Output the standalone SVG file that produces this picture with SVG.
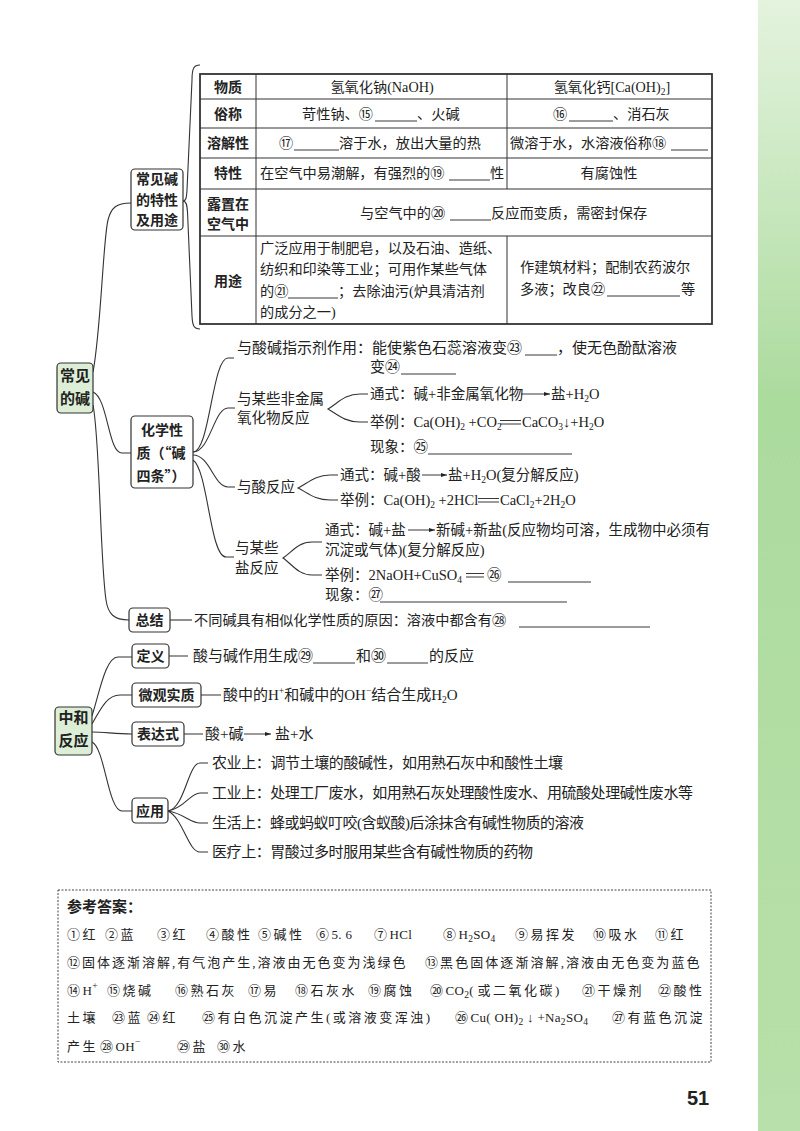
<svg xmlns="http://www.w3.org/2000/svg" width="800" height="1131" viewBox="0 0 800 1131">
<defs>
<linearGradient id="gs" x1="0" y1="0" x2="0" y2="1">
<stop offset="0" stop-color="#e4f3de"/>
<stop offset="0.35" stop-color="#acdb9e"/>
<stop offset="1" stop-color="#b8e0aa"/>
</linearGradient>
<marker id="ah" viewBox="0 0 6 6" refX="6" refY="3" markerWidth="6" markerHeight="6" orient="auto" markerUnits="userSpaceOnUse"><path d="M0,1 L6,3 L0,5 Z" fill="#222"/></marker>
</defs>
<style>
text{font-family:"Liberation Serif","Noto Sans CJK SC",serif;font-size:14.5px;fill:#222}
.b{font-family:"Noto Sans CJK SC",sans-serif;font-weight:bold;font-size:14px;text-anchor:middle}
.bg{font-family:"Noto Sans CJK SC",sans-serif;font-weight:bold;font-size:15px;text-anchor:middle}
.c{text-anchor:middle}
.t{font-size:14.2px}
.f15{font-size:15px}
.box{fill:#fff;stroke:#333;stroke-width:1.2}
.gbox{fill:#dcefd6;stroke:#333;stroke-width:1.2}
.ln{fill:none;stroke:#333;stroke-width:1.1}
.ul{stroke:#222;stroke-width:0.9}
.tb{stroke:#333;stroke-width:1;fill:none}
.ar{stroke:#222;stroke-width:0.9;marker-end:url(#ah)}
.ans{font-size:13px;letter-spacing:2.5px}
.la{letter-spacing:0.3px}
.s{font-size:9.5px}
</style>
<rect x="0" y="0" width="800" height="1131" fill="#fff"/>
<rect x="758" y="0" width="42" height="1131" fill="url(#gs)"/>

<g id="connectors">
<path class="ln" d="M93,372 C101,330 103,240 108,220 C111,208 116,203 131,203"/>
<path class="ln" d="M93,392 C108,398 108,453 122,453 L131,453"/>
<path class="ln" d="M93,405 C100,440 100,560 106,600 C108,614 114,620 129,620"/>
<path class="ln" d="M200,65 C194,65 192,68 192,80 L187,190 C186.5,198 186,201 183,201 C186,201 187,204 187.5,212 L192,316 C192.5,326 194,329 200,329"/>
<path class="ln" d="M193,452 C210,452 212,358 228,358 L234,358"/>
<path class="ln" d="M193,452 C210,452 214,408 228,408 L235,408"/>
<path class="ln" d="M193,455 C210,455 214,487 228,487 L235,487"/>
<path class="ln" d="M193,460 C208,470 210,557 226,557 L234,557"/>
<path class="ln" d="M368,394 L360,394 C345,394 338,403 328,409 C338,415 345,422 360,422 L368,422"/>
<path class="ln" d="M338,475 L330,475 C315,475 308,483 298,488 C308,493 315,500 330,500 L338,500"/>
<path class="ln" d="M322,542 L312,542 C298,542 292,552 283,558 C292,564 298,575 312,575 L322,575"/>
<path class="ln" d="M170,620 L192,620"/>
<path class="ln" d="M92,716 C100,690 106,657 118,657 L132,657"/>
<path class="ln" d="M92,724 C102,706 108,695 120,695 L132,695"/>
<path class="ln" d="M92,732 C105,732 115,734 132,734"/>
<path class="ln" d="M92,742 C105,748 108,811 122,811 L132,811"/>
<path class="ln" d="M169,656 L188,656 M201,695 L221,695 M184,734 L203,734"/>
<path class="ln" d="M168,811 C185,808 188,763 200,763 L208,763"/>
<path class="ln" d="M168,811 C185,808 190,793 200,793 L208,793"/>
<path class="ln" d="M168,811 C185,814 190,823 200,823 L208,823"/>
<path class="ln" d="M168,811 C183,818 188,852 200,852 L208,852"/>
</g>

<g id="node-changjiandejian">
<rect class="gbox" x="57" y="363" width="36" height="50" rx="4"/>
<text class="bg" x="75" y="381">常见</text>
<text class="bg" x="75" y="404">的碱</text>
</g>

<g id="node-texing">
<rect class="box" x="131" y="169" width="52" height="61" rx="4"/>
<text class="b" x="157" y="184">常见碱</text>
<text class="b" x="157" y="205">的特性</text>
<text class="b" x="157" y="225">及用途</text>
</g>

<g id="node-table">
<rect x="200" y="74" width="512" height="250" fill="none" stroke="#333" stroke-width="1.8"/>
<path class="tb" d="M200,99 H712 M200,128 H712 M200,158 H712 M200,189 H712 M200,236 H712 M256,74 V324 M507,74 V189 M507,236 V324"/>
<text class="b" x="228" y="92">物质</text>
<text class="b" x="228" y="119">俗称</text>
<text class="b" x="228" y="148">溶解性</text>
<text class="b" x="228" y="178">特性</text>
<text class="b" x="228" y="209">露置在</text>
<text class="b" x="228" y="229">空气中</text>
<text class="b" x="228" y="286">用途</text>
<text class="t c" x="382" y="92">氢氧化钠(NaOH)</text>
<text class="t c" x="612" y="92">氢氧化钙[Ca(OH)<tspan class="s" dy="3">2</tspan><tspan dy="-3">]</tspan></text>
<text class="t" x="302" y="119">苛性钠、⑮</text>
<line class="ul" x1="375" y1="121" x2="417" y2="121"/>
<text class="t" x="417" y="119">、火碱</text>
<text class="t" x="553" y="119">⑯</text>
<line class="ul" x1="569" y1="121" x2="613" y2="121"/>
<text class="t" x="613" y="119">、消石灰</text>
<text class="t" x="279" y="148">⑰</text>
<line class="ul" x1="294" y1="150" x2="339" y2="150"/>
<text class="t" x="339" y="148">溶于水，放出大量的热</text>
<text class="t" x="510" y="148">微溶于水，水溶液俗称⑱</text>
<line class="ul" x1="671" y1="150" x2="708" y2="150"/>
<text class="t" x="260" y="178">在空气中易潮解，有强烈的⑲</text>
<line class="ul" x1="449" y1="180" x2="490" y2="180"/>
<text class="t" x="490" y="178">性</text>
<text class="t c" x="609" y="178">有腐蚀性</text>
<text class="t" x="360" y="218">与空气中的⑳</text>
<line class="ul" x1="450" y1="220" x2="491" y2="220"/>
<text class="t" x="491" y="218">反应而变质，需密封保存</text>
<text class="t" x="260" y="253">广泛应用于制肥皂，以及石油、造纸、</text>
<text class="t" x="260" y="274">纺织和印染等工业；可用作某些气体</text>
<text class="t" x="260" y="296">的㉑</text>
<line class="ul" x1="288" y1="298" x2="338" y2="298"/>
<text class="t" x="338" y="296">；去除油污(炉具清洁剂</text>
<text class="t" x="260" y="317">的成分之一)</text>
<text class="t" x="520" y="272">作建筑材料；配制农药波尔</text>
<text class="t" x="520" y="294">多液；改良㉒</text>
<line class="ul" x1="607" y1="296" x2="680" y2="296"/>
<text class="t" x="681" y="294">等</text>
</g>

<g id="node-huaxue">
<rect class="box" x="131" y="416" width="62" height="72" rx="4"/>
<text class="b" x="162" y="435">化学性</text>
<text class="b" x="161" y="458">质（“碱</text>
<text class="b" x="161" y="481">四条”）</text>
</g>

<g id="node-zhishiji">
<text class="f15" x="237" y="353">与酸碱指示剂作用：能使紫色石蕊溶液变㉓</text>
<line class="ul" x1="525" y1="355" x2="557" y2="355"/>
<text class="f15" x="557" y="353">，使无色酚酞溶液</text>
<text class="f15" x="370" y="372">变㉔</text>
<line class="ul" x1="401" y1="374" x2="456" y2="374"/>
</g>

<g id="node-feijinshu">
<text x="237" y="404">与某些非金属</text>
<text x="237" y="423">氧化物反应</text>
<text x="370" y="399">通式：碱+非金属氧化物</text>
<line class="ar" x1="521" y1="394" x2="550" y2="394"/>
<text x="551" y="399">盐+H<tspan class="s" dy="3">2</tspan><tspan dy="-3">O</tspan></text>
<text x="370" y="427">举例：Ca(OH)<tspan class="s" dy="3">2</tspan><tspan dy="-3"> +CO</tspan><tspan class="s" dy="3">2</tspan></text>
<path class="ul" d="M500,420.5 H521 M500,424 H521"/>
<text x="522" y="427">CaCO<tspan class="s" dy="3">3</tspan><tspan dy="-3">↓+H</tspan><tspan class="s" dy="3">2</tspan><tspan dy="-3">O</tspan></text>
<text x="370" y="452">现象：㉕</text>
<line class="ul" x1="428" y1="454" x2="572" y2="454"/>
</g>

<g id="node-suan">
<text x="237" y="492">与酸反应</text>
<text x="340" y="480">通式：碱+酸</text>
<line class="ar" x1="422" y1="475" x2="447" y2="475"/>
<text x="448" y="480">盐+H<tspan class="s" dy="3">2</tspan><tspan dy="-3">O(复分解反应)</tspan></text>
<text x="340" y="505">举例：Ca(OH)<tspan class="s" dy="3">2</tspan><tspan dy="-3"> +2HCl</tspan></text>
<path class="ul" d="M478,498.5 H499 M478,502 H499"/>
<text x="500" y="505">CaCl<tspan class="s" dy="3">2</tspan><tspan dy="-3">+2H</tspan><tspan class="s" dy="3">2</tspan><tspan dy="-3">O</tspan></text>
</g>

<g id="node-yan">
<text x="235" y="553">与某些</text>
<text x="235" y="573">盐反应</text>
<text x="325" y="535">通式：碱+盐</text>
<line class="ar" x1="408" y1="530" x2="435" y2="530"/>
<text x="436" y="535">新碱+新盐(反应物均可溶，生成物中必须有</text>
<text x="325" y="555">沉淀或气体)(复分解反应)</text>
<text x="325" y="580">举例：2NaOH+CuSO<tspan class="s" dy="3">4</tspan></text>
<path class="ul" d="M466,573.5 H484 M466,577 H484"/>
<text x="487" y="580">㉖</text>
<line class="ul" x1="508" y1="582" x2="591" y2="582"/>
<text x="325" y="600">现象：㉗</text>
<line class="ul" x1="380" y1="602" x2="567" y2="602"/>
</g>

<g id="node-zongjie">
<rect class="box" x="129" y="608" width="41" height="24" rx="4"/>
<text class="b" x="149.5" y="625">总结</text>
<text class="t" x="194" y="625">不同碱具有相似化学性质的原因：溶液中都含有㉘</text>
<line class="ul" x1="519" y1="627" x2="650" y2="627"/>
</g>

<g id="node-zhonghe">
<rect class="gbox" x="55" y="707" width="37" height="48" rx="4"/>
<text class="bg" x="73.5" y="723">中和</text>
<text class="bg" x="73.5" y="746">反应</text>
</g>

<g id="node-dingyi">
<rect class="box" x="132" y="644" width="37" height="24" rx="4"/>
<text class="b" x="150.5" y="661">定义</text>
<text class="f15" x="193" y="661">酸与碱作用生成㉙</text>
<line class="ul" x1="313" y1="663" x2="355" y2="663"/>
<text class="f15" x="356" y="661">和㉚</text>
<line class="ul" x1="387" y1="663" x2="428" y2="663"/>
<text class="f15" x="429" y="661">的反应</text>
</g>

<g id="node-weiguan">
<rect class="box" x="132" y="683" width="69" height="24" rx="4"/>
<text class="b" x="166.5" y="700">微观实质</text>
<text class="f15" x="223" y="700">酸中的H<tspan class="s" dy="-6">+</tspan><tspan dy="6">和碱中的OH</tspan><tspan class="s" dy="-6">−</tspan><tspan dy="6">结合生成H</tspan><tspan class="s" dy="3">2</tspan><tspan dy="-3">O</tspan></text>
</g>

<g id="node-biaoda">
<rect class="box" x="132" y="722" width="52" height="24" rx="4"/>
<text class="b" x="158" y="739">表达式</text>
<text class="f15" x="205" y="739">酸+碱</text>
<line class="ar" x1="244" y1="734" x2="271" y2="734"/>
<text class="f15" x="275" y="739">盐+水</text>
</g>

<g id="node-yingyong">
<rect class="box" x="132" y="798" width="36" height="25" rx="4"/>
<text class="b" x="150" y="816">应用</text>
<text class="f15" x="212" y="768" textLength="351">农业上：调节土壤的酸碱性，如用熟石灰中和酸性土壤</text>
<text class="f15" x="212" y="798" textLength="481">工业上：处理工厂废水，如用熟石灰处理酸性废水、用硫酸处理碱性废水等</text>
<text class="f15" x="212" y="828" textLength="372">生活上：蜂或蚂蚁叮咬(含蚁酸)后涂抹含有碱性物质的溶液</text>
<text class="f15" x="212" y="857" textLength="321">医疗上：胃酸过多时服用某些含有碱性物质的药物</text>
</g>

<g id="answers">
<rect x="58" y="890" width="653" height="172" fill="none" stroke="#444" stroke-width="1" stroke-dasharray="2,1.5"/>
<text x="67" y="912" style="font-family:'Noto Sans CJK SC',sans-serif;font-weight:bold;font-size:15px">参考答案：</text>
<text class="ans" y="939"><tspan x="67">①红</tspan><tspan x="105">②蓝</tspan><tspan x="157">③红</tspan><tspan x="206">④酸性</tspan><tspan x="258">⑤碱性</tspan><tspan x="316">⑥</tspan><tspan class="la">5. 6</tspan><tspan x="374">⑦</tspan><tspan class="la">HCl</tspan><tspan x="443">⑧</tspan><tspan class="la">H</tspan><tspan class="s la" dy="3">2</tspan><tspan class="la" dy="-3">SO</tspan><tspan class="s la" dy="3">4</tspan><tspan x="515" dy="-3">⑨易挥发</tspan><tspan x="593">⑩吸水</tspan><tspan x="655">⑪红</tspan></text>
<text class="ans" x="67" y="967" textLength="341" lengthAdjust="spacing">⑫固体逐渐溶解,有气泡产生,溶液由无色变为浅绿色</text>
<text class="ans" x="425" y="967" textLength="277" lengthAdjust="spacing">⑬黑色固体逐渐溶解,溶液由无色变为蓝色</text>
<text class="ans" y="995"><tspan x="67">⑭</tspan><tspan class="la">H</tspan><tspan class="s la" dy="-6">+</tspan><tspan x="107" dy="6">⑮烧碱</tspan><tspan x="175">⑯熟石灰</tspan><tspan x="248">⑰易</tspan><tspan x="295">⑱石灰水</tspan><tspan x="368">⑲腐蚀</tspan><tspan x="430">⑳</tspan><tspan class="la">CO</tspan><tspan class="s la" dy="3">2</tspan><tspan class="la" dy="-3">( </tspan><tspan>或二氧化碳</tspan><tspan class="la">)</tspan><tspan x="582">㉑干燥剂</tspan><tspan x="658">㉒酸性</tspan></text>
<text class="ans" y="1022"><tspan x="67">土壤</tspan><tspan x="112">㉓蓝</tspan><tspan x="147">㉔红</tspan><tspan x="202">㉕有白色沉淀产生(或溶液变浑浊)</tspan><tspan x="455">㉖</tspan><tspan class="la">Cu( OH)</tspan><tspan class="s la" dy="3">2</tspan><tspan class="la" dy="-3"> ↓ +Na</tspan><tspan class="s la" dy="3">2</tspan><tspan class="la" dy="-3">SO</tspan><tspan class="s la" dy="3">4</tspan><tspan x="612" dy="-3">㉗有蓝色沉淀</tspan></text>
<text class="ans" y="1051"><tspan x="67">产生</tspan><tspan x="100">㉘</tspan><tspan class="la">OH</tspan><tspan class="s la" dy="-6">−</tspan><tspan x="177" dy="6">㉙盐</tspan><tspan x="217">㉚水</tspan></text>
</g>

<text x="687" y="1105" style="font-family:'Liberation Sans',sans-serif;font-weight:bold;font-size:20px">51</text>
</svg>
